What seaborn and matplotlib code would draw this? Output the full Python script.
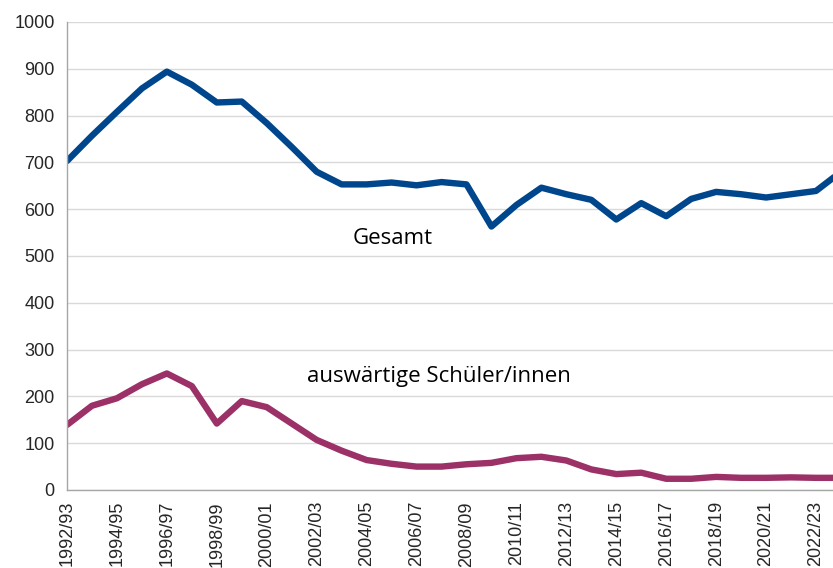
import matplotlib
matplotlib.use("Agg")
import matplotlib.pyplot as plt
import pandas as pd
import seaborn as sns

# school years 1992/93 .. 2023/24
schuljahre = [f"{y}/{str(y + 1)[-2:]}" for y in range(1992, 2024)]

gesamt = [703, 757, 808, 858, 894, 866, 828, 830, 784, 733,
          680, 653, 653, 657, 651, 658, 653, 563, 609, 646,
          632, 620, 578, 613, 585, 622, 637, 632, 625, 632,
          639, 680]

auswaertig = [139, 180, 196, 226, 249, 222, 142, 190, 177, 142,
              107, 84, 64, 56, 50, 50, 55, 58, 68, 71,
              63, 44, 34, 37, 24, 24, 28, 26, 26, 27,
              26, 26]

df = pd.DataFrame({
    "pos": list(range(len(schuljahre))) * 2,
    "wert": gesamt + auswaertig,
    "reihe": ["Gesamt"] * len(gesamt) + ["auswärtige Schüler/innen"] * len(auswaertig),
})

sns.set_style("white")
plt.rcParams["font.family"] = ["Liberation Sans", "DejaVu Sans"]

fig = plt.figure(figsize=(8.33, 5.68), dpi=100)
# axes runs slightly past the right edge, like the cropped original
ax = fig.add_axes([67 / 833, 1 - 490 / 568, (841 - 67) / 833, 468 / 568])

sns.lineplot(data=df, x="pos", y="wert", hue="reihe",
             palette={"Gesamt": "#00468C", "auswärtige Schüler/innen": "#9B3167"},
             linewidth=4.6, legend=False, ax=ax)

ax.set_xlim(0, len(schuljahre) - 1)
ax.set_ylim(0, 1000)
ax.set_yticks(range(0, 1001, 100))
ax.set_xticks(range(len(schuljahre)))
ax.set_xticklabels([s if i % 2 == 0 else "" for i, s in enumerate(schuljahre)],
                   rotation=90)
ax.grid(axis="y", color="#d9d9d9", linewidth=1)
ax.set_axisbelow(True)
ax.set_xlabel("")
ax.set_ylabel("")

for side in ["top", "right"]:
    ax.spines[side].set_visible(False)
for side in ["left", "bottom"]:
    ax.spines[side].set_color("#a6a6a6")
    ax.spines[side].set_linewidth(1)

ax.tick_params(axis="x", length=5, color="#a6a6a6", labelsize=13, pad=3)
ax.tick_params(axis="y", length=0, labelsize=13, pad=9)

ax.text(13.03, 538, "Gesamt", ha="center", va="center", fontsize=16,
        family="Open Sans", color="black")
ax.text(14.9, 242, "auswärtige Schüler/innen", ha="center", va="center",
        fontsize=16, family="Open Sans", color="black")

plt.savefig("out.png", dpi=100)
plt.close()
